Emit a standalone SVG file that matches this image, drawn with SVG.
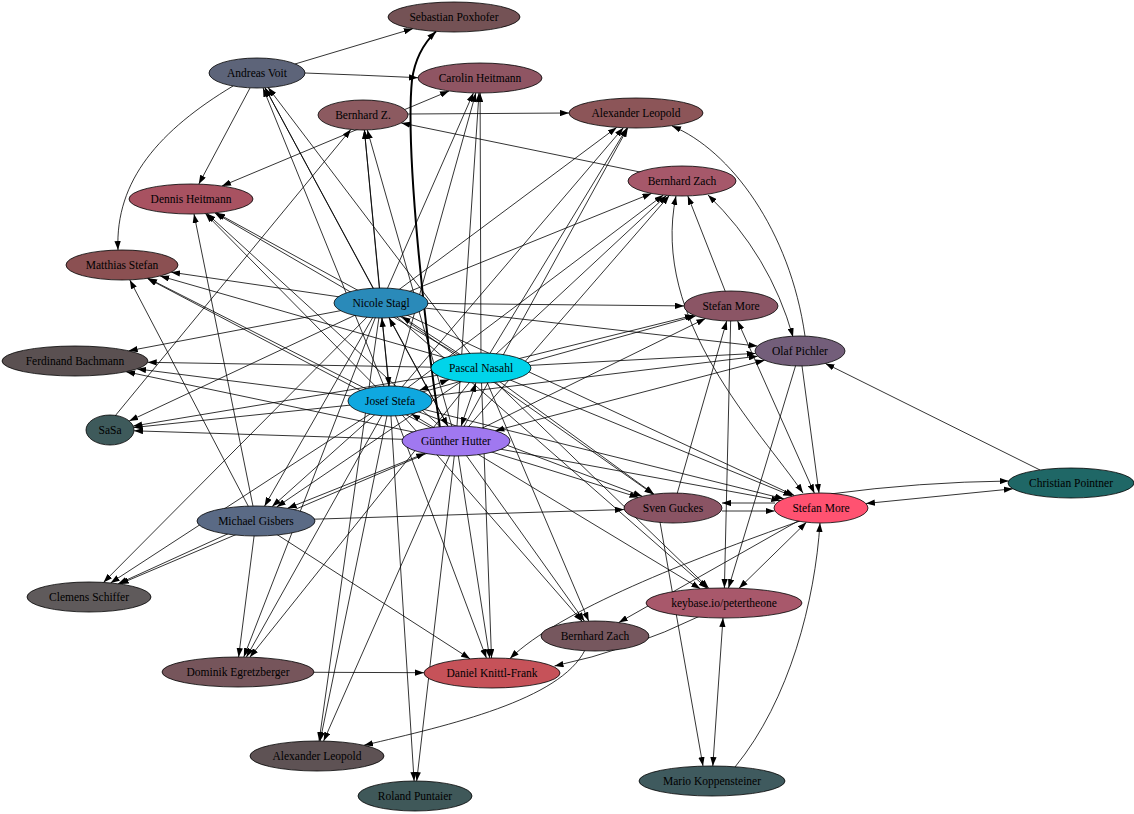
<svg xmlns="http://www.w3.org/2000/svg" width="1134" height="814" viewBox="0 0 1134 814">
<style>
.n ellipse{stroke:#000;stroke-width:0.8}
.n text{font-family:"Liberation Serif","Times New Roman",serif;font-size:11.5px;text-anchor:middle;fill:#000}
#edges path{fill:none;stroke:#000;stroke-width:0.8;marker-end:url(#ah)}
#edges path.b{marker-start:url(#ahs)}
#edges path.t{stroke-width:2}
</style>
<defs>
<marker id="ah" viewBox="0 0 10 7" refX="10" refY="3.5" markerWidth="9" markerHeight="6.5" markerUnits="userSpaceOnUse" orient="auto"><path d="M0,0L10,3.5L0,7z" fill="#000"/></marker>
<marker id="ahs" viewBox="0 0 10 7" refX="10" refY="3.5" markerWidth="9" markerHeight="6.5" markerUnits="userSpaceOnUse" orient="auto-start-reverse"><path d="M0,0L10,3.5L0,7z" fill="#000"/></marker>
</defs>
<rect width="1134" height="814" fill="#fff"/>
<g id="edges">
<!-- Nicole Stagl -->
<path d="M381,303L265,87.8"/>
<path d="M381,303L473.4,92.9"/>
<path d="M381,303L364.4,130"/>
<path d="M381,303L616.7,127.4"/>
<path d="M381,303L651.5,193.4"/>
<path d="M381,303L216.1,212.7"/>
<path d="M381,303L171.1,272.2"/>
<path d="M381,303L128.7,350.8"/>
<path d="M381,303L129.2,421"/>
<path d="M381,303L264.5,506.2"/>
<path d="M381,303L103.5,582.4"/>
<path d="M381,303L243.8,657"/>
<path d="M381,303L319.1,741"/>
<path d="M381,303L707.3,588.4"/>
<path d="M381,303L653.4,494.3"/>
<path d="M381,303L794.4,495.6"/>
<path d="M381,303L757.4,346.1"/>
<path d="M381,303L684,305.9"/>
<!-- Pascal Nasahl -->
<path d="M481,368L268.1,87.6"/>
<path d="M481,368L480.1,93"/>
<path d="M481,368L627,127.9"/>
<path d="M481,368L666.6,195.4"/>
<path d="M481,368L214.8,212.9"/>
<path d="M481,368L160.2,276"/>
<path d="M481,368L147.7,362.3"/>
<path d="M481,368L133.2,426.1"/>
<path d="M481,368L276.7,507"/>
<path d="M481,368L249.8,657.2"/>
<path d="M481,368L491.5,658"/>
<path d="M481,368L588.7,621.1"/>
<path d="M481,368L708.8,588.3"/>
<path d="M481,368L654,494.2"/>
<path d="M481,368L792.2,496.1"/>
<path d="M481,368L755.6,353.4"/>
<path d="M481,368L693.9,315.2"/>
<path d="M481,368L401.7,316.5"/>
<!-- Josef Stefa -->
<path d="M390,401L263,87.9"/>
<path d="M390,401L475.8,93"/>
<path d="M390,401L364.4,130"/>
<path d="M390,401L623.4,127.7"/>
<path d="M390,401L663.3,195.1"/>
<path d="M390,401L205.4,213.6"/>
<path d="M390,401L148.1,278.3"/>
<path d="M390,401L137.1,368.9"/>
<path d="M390,401L133.7,427.5"/>
<path d="M390,401L272.1,506.6"/>
<path d="M390,401L110.6,582.9"/>
<path d="M390,401L246.4,657.1"/>
<path d="M390,401L320.1,741"/>
<path d="M390,401L414.1,781"/>
<path d="M390,401L486.4,658"/>
<path d="M390,401L582.3,621.4"/>
<path d="M390,401L642.2,496.3"/>
<path d="M390,401L783.9,498.8"/>
<path d="M390,401L757.7,356.2"/>
<path d="M390,401L695.6,315.9"/>
<!-- Guenther Hutter -->
<path d="M456,441L265,87.8"/>
<path d="M456,441L479,93"/>
<path d="M456,441L367.3,129.9"/>
<path d="M456,441L627.8,127.9"/>
<path d="M456,441L669.3,195.6"/>
<path d="M456,441L206.9,213.5"/>
<path d="M456,441L147.4,278.4"/>
<path d="M456,441L126.1,371.7"/>
<path d="M456,441L134,430.8"/>
<path d="M456,441L119.7,584"/>
<path d="M456,441L323.6,741.1"/>
<path d="M456,441L416.7,781"/>
<path d="M456,441L489.7,658"/>
<path d="M456,441L584.5,621.3"/>
<path d="M456,441L700.3,588.7"/>
<path d="M456,441L638.5,497.4"/>
<path d="M456,441L780.3,500.5"/>
<path d="M456,441L705.4,318.6"/>
<path d="M456,441L411.3,413.9"/>
<path class="t" d="M440,428C425,330 405,150 412,80C415,58 425,42 436,31.4"/>
<!-- hub to hub -->
<path class="b" d="M381.8,318L389.2,386"/>
<path class="b" d="M389,317.8L447.9,426.2"/>
<path class="b" d="M475.9,382.9L461.1,426.1"/>
<path class="b" d="M419.5,390.3L449.1,379.6"/>
<path class="b" d="M495.3,430.7L764.6,360.3"/>
<path class="b" d="M425.2,453.3L287.6,508.3"/>
<!-- others -->
<path d="M295,64L412.8,28.7"/>
<path d="M305,73Q360,75 418,77.7"/>
<path d="M250,88L198.8,184.1"/>
<path d="M233,86C160,130 115,180 118,250"/>
<path d="M408,114L569,113"/>
<path d="M640,172L401.2,122.9"/>
<path d="M115,416L350.9,129.4"/>
<path class="b" d="M222,186L449,91"/>
<path d="M256,521L194,214"/>
<path d="M256,521L129.8,279.9"/>
<path d="M256,521L118.1,583.8"/>
<path d="M256,521L238.6,657"/>
<path d="M256,521L470,658.8"/>
<path d="M256,521L624,509.5"/>
<path d="M238,672L424,672.7"/>
<path d="M700,616Q630,650 554.5,666"/>
<path d="M800,521C690,560 560,610 510,658.5"/>
<path d="M821,508L618.8,622.5"/>
<path d="M585,650C560,700 450,725 364,745.3"/>
<path d="M660,522L703,766"/>
<path class="b" d="M723,618L712.8,766"/>
<path d="M735,767C790,700 815,600 820,523"/>
<path d="M673,508L726.7,320.9"/>
<path d="M722,511L774.5,511"/>
<path d="M775,503L722,503"/>
<path d="M731,306L687.8,195.9"/>
<path d="M731,306L724.4,588"/>
<path class="b" d="M737.6,320.9L814.4,493.2"/>
<path class="b" d="M676,196C650,320 760,430 803,493"/>
<path class="b" d="M708,195Q770,255 793,337"/>
<path d="M805,336C790,230 730,150 672,126"/>
<path d="M800,351L819,493"/>
<path d="M800,351L728.5,588"/>
<path class="b" d="M739,588.3L806.4,522.3"/>
<path class="b" d="M865.9,503.5L1012.9,488.8"/>
<path d="M830,494Q920,482 1008.6,481"/>
<path d="M1040,470L825.4,363.4"/>
</g>
<g id="n-sp" class="n"><ellipse cx="454" cy="17" rx="66" ry="15" fill="#745255"/><text x="454" y="21">Sebastian Poxhofer</text></g>
<g id="n-av" class="n"><ellipse cx="257" cy="73" rx="48" ry="15" fill="#5d6479"/><text x="257" y="77">Andreas Voit</text></g>
<g id="n-ch" class="n"><ellipse cx="480" cy="78" rx="62" ry="15" fill="#8f5563"/><text x="480" y="82">Carolin Heitmann</text></g>
<g id="n-bz" class="n"><ellipse cx="363" cy="115" rx="45" ry="15" fill="#8c5a60"/><text x="363" y="119">Bernhard Z.</text></g>
<g id="n-alt" class="n"><ellipse cx="636" cy="113" rx="67" ry="15" fill="#8c5558"/><text x="636" y="117">Alexander Leopold</text></g>
<g id="n-bza" class="n"><ellipse cx="682" cy="181" rx="54" ry="15" fill="#a6586a"/><text x="682" y="185">Bernhard Zach</text></g>
<g id="n-dh" class="n"><ellipse cx="191" cy="199" rx="62" ry="15" fill="#a85261"/><text x="191" y="203">Dennis Heitmann</text></g>
<g id="n-ms" class="n"><ellipse cx="122" cy="265" rx="56" ry="15" fill="#8b5052"/><text x="122" y="269">Matthias Stefan</text></g>
<g id="n-ns" class="n"><ellipse cx="381" cy="303" rx="47" ry="15" fill="#2a8ab9"/><text x="381" y="307">Nicole Stagl</text></g>
<g id="n-smu" class="n"><ellipse cx="731" cy="306" rx="47" ry="15" fill="#8b5565"/><text x="731" y="310">Stefan More</text></g>
<g id="n-op" class="n"><ellipse cx="800" cy="351" rx="45" ry="15" fill="#735e7a"/><text x="800" y="355">Olaf Pichler</text></g>
<g id="n-fb" class="n"><ellipse cx="75" cy="361" rx="73" ry="15" fill="#5a5051"/><text x="75" y="365">Ferdinand Bachmann</text></g>
<g id="n-pn" class="n"><ellipse cx="481" cy="368" rx="50" ry="15" fill="#00d4ea"/><text x="481" y="372">Pascal Nasahl</text></g>
<g id="n-js" class="n"><ellipse cx="390" cy="401" rx="42" ry="15" fill="#0fa8e0"/><text x="390" y="405">Josef Stefa</text></g>
<g id="n-ss" class="n"><ellipse cx="110" cy="430" rx="24" ry="15" fill="#3e5a5b"/><text x="110" y="434">SaSa</text></g>
<g id="n-gh" class="n"><ellipse cx="456" cy="441" rx="54" ry="15" fill="#a078f0"/><text x="456" y="445">Günther Hutter</text></g>
<g id="n-cp" class="n"><ellipse cx="1071" cy="483" rx="63" ry="15" fill="#1f6766"/><text x="1071" y="487">Christian Pointner</text></g>
<g id="n-sg" class="n"><ellipse cx="673" cy="508" rx="49" ry="15" fill="#8a5464"/><text x="673" y="512">Sven Guckes</text></g>
<g id="n-smr" class="n"><ellipse cx="821" cy="508" rx="47" ry="15" fill="#ff5271"/><text x="821" y="512">Stefan More</text></g>
<g id="n-mg" class="n"><ellipse cx="256" cy="521" rx="59" ry="15" fill="#5a6a85"/><text x="256" y="525">Michael Gisbers</text></g>
<g id="n-cs" class="n"><ellipse cx="89" cy="597" rx="62" ry="15" fill="#5f5a5b"/><text x="89" y="601">Clemens Schiffer</text></g>
<g id="n-kb" class="n"><ellipse cx="724" cy="603" rx="78" ry="15" fill="#a8586b"/><text x="724" y="607">keybase.io/petertheone</text></g>
<g id="n-bzb" class="n"><ellipse cx="595" cy="636" rx="54" ry="15" fill="#76575e"/><text x="595" y="640">Bernhard Zach</text></g>
<g id="n-de" class="n"><ellipse cx="238" cy="672" rx="76" ry="15" fill="#76555b"/><text x="238" y="676">Dominik Egretzberger</text></g>
<g id="n-dk" class="n"><ellipse cx="492" cy="673" rx="68" ry="15" fill="#c65259"/><text x="492" y="677">Daniel Knittl-Frank</text></g>
<g id="n-alb" class="n"><ellipse cx="317" cy="756" rx="67" ry="15" fill="#5e5254"/><text x="317" y="760">Alexander Leopold</text></g>
<g id="n-rp" class="n"><ellipse cx="415" cy="796" rx="57" ry="15" fill="#3f5859"/><text x="415" y="800">Roland Puntaier</text></g>
<g id="n-mk" class="n"><ellipse cx="712" cy="781" rx="73" ry="15" fill="#3f5a5e"/><text x="712" y="785">Mario Koppensteiner</text></g>
</svg>
